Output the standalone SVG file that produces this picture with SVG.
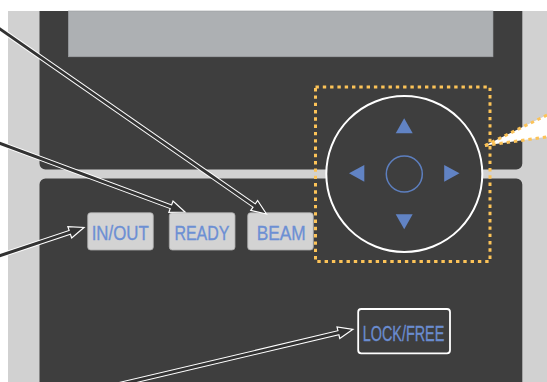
<svg xmlns="http://www.w3.org/2000/svg" width="547" height="382" viewBox="0 0 547 382">
<style>
.panel{fill:#3e3e3e}
.btn{fill:#d3d3d3;stroke:#a9a9a9;stroke-width:0.8}
.btxt{font-family:"Liberation Sans",Arial,sans-serif;font-size:21px;fill:#6c8fd3;stroke:#6c8fd3;stroke-width:0.35;text-anchor:middle}
.tri{fill:#6183c4}
.dots{fill:none;stroke:#fcc358;stroke-width:3;stroke-dasharray:3.4 3.9}
.sw{fill:none;stroke:#ffffff;stroke-width:5}
.sd{fill:none;stroke:#333333;stroke-width:3}
.head{fill:#333333;stroke:#ffffff;stroke-width:1.2;stroke-linejoin:miter}
</style>
<rect width="547" height="382" fill="#ffffff"/>
<g id="device">
<rect x="8" y="11" width="545" height="380" fill="#d1d1d1"/>
<path class="panel" d="M39.5 11 H522.3 V163.5 A6 6 0 0 1 516.3 169.5 H45.5 A6 6 0 0 1 39.5 163.5 Z"/>
<path class="panel" d="M39.5 184.5 A6 6 0 0 1 45.5 178.5 H516.3 A6 6 0 0 1 522.3 184.5 V390 H39.5 Z"/>
</g>
<g id="display">
<rect x="68.3" y="11" width="424.7" height="45.8" fill="#adb0b3" stroke="#9a9da0" stroke-width="0.6"/>
</g>
<g id="joypad">
<circle cx="404.3" cy="174" r="78" fill="#3e3e3e" stroke="#ffffff" stroke-width="2"/>
<circle cx="404.3" cy="174" r="18" fill="none" stroke="#5d7fbf" stroke-width="1.5"/>
<polygon class="tri" points="404.2,118.3 412.7,133.3 395.7,133.3"/>
<polygon class="tri" points="404.2,229.3 412.7,214.3 395.7,214.3"/>
<polygon class="tri" points="349,173.3 364.3,165 364.3,181.7"/>
<polygon class="tri" points="459.5,173.3 444.2,165 444.2,181.7"/>
</g>
<g id="highlight">
<rect class="dots" x="315.5" y="87" width="174.5" height="174.5"/>
</g>
<g id="callout">
<polygon points="485,145.5 560,108.7 560,135" fill="#ffffff"/>
<polyline class="dots" points="485,145.5 560,108.7"/>
<polyline class="dots" points="485,145.5 560,135"/>
</g>
<g id="btn-inout">
<rect class="btn" x="87.7" y="212.7" width="65.6" height="37.3" rx="3"/>
<text class="btxt" x="120.2" y="239.6" textLength="57" lengthAdjust="spacingAndGlyphs">IN/OUT</text>
</g>
<g id="btn-ready">
<rect class="btn" x="169.3" y="212.7" width="65.7" height="37.3" rx="3"/>
<text class="btxt" x="201.9" y="239.6" textLength="55" lengthAdjust="spacingAndGlyphs">READY</text>
</g>
<g id="btn-beam">
<rect class="btn" x="247.7" y="212.7" width="65.6" height="37.3" rx="3"/>
<text class="btxt" x="281.2" y="239.6" textLength="49" lengthAdjust="spacingAndGlyphs">BEAM</text>
</g>
<g id="btn-lockfree">
<rect x="358.2" y="309" width="91.8" height="44.3" rx="3" fill="none" stroke="#ffffff" stroke-width="1.8"/>
<text class="btxt" x="403.5" y="340.9" style="font-size:22.5px;fill:#6a8ccf;stroke:#6a8ccf" textLength="81.6" lengthAdjust="spacingAndGlyphs">LOCK/FREE</text>
</g>
<g id="connectors">
<line class="sw" x1="-10" y1="22.06" x2="254.18" y2="205.45"/>
<line class="sw" x1="-10" y1="139.6" x2="170.94" y2="206.78"/>
<line class="sw" x1="-10" y1="259.06" x2="69.78" y2="232.27"/>
<line class="sw" x1="110" y1="386.7" x2="338.4" y2="332.75"/>
<polygon class="head" points="266.5,214 250.76,210.38 257.6,200.52"/>
<polygon class="head" points="185,212 168.85,212.41 173.03,201.15"/>
<polygon class="head" points="84,227.5 71.69,237.96 67.87,226.58"/>
<polygon class="head" points="353,329.3 339.78,338.59 337.02,326.91"/>
<line class="sd" x1="-10" y1="22.06" x2="256.6" y2="207.2"/>
<line class="sd" x1="-10" y1="139.6" x2="173.75" y2="207.82"/>
<line class="sd" x1="-10" y1="259.06" x2="72.62" y2="231.32"/>
<line class="sd" x1="110" y1="386.7" x2="341.32" y2="332.06"/>
</g>
</svg>
